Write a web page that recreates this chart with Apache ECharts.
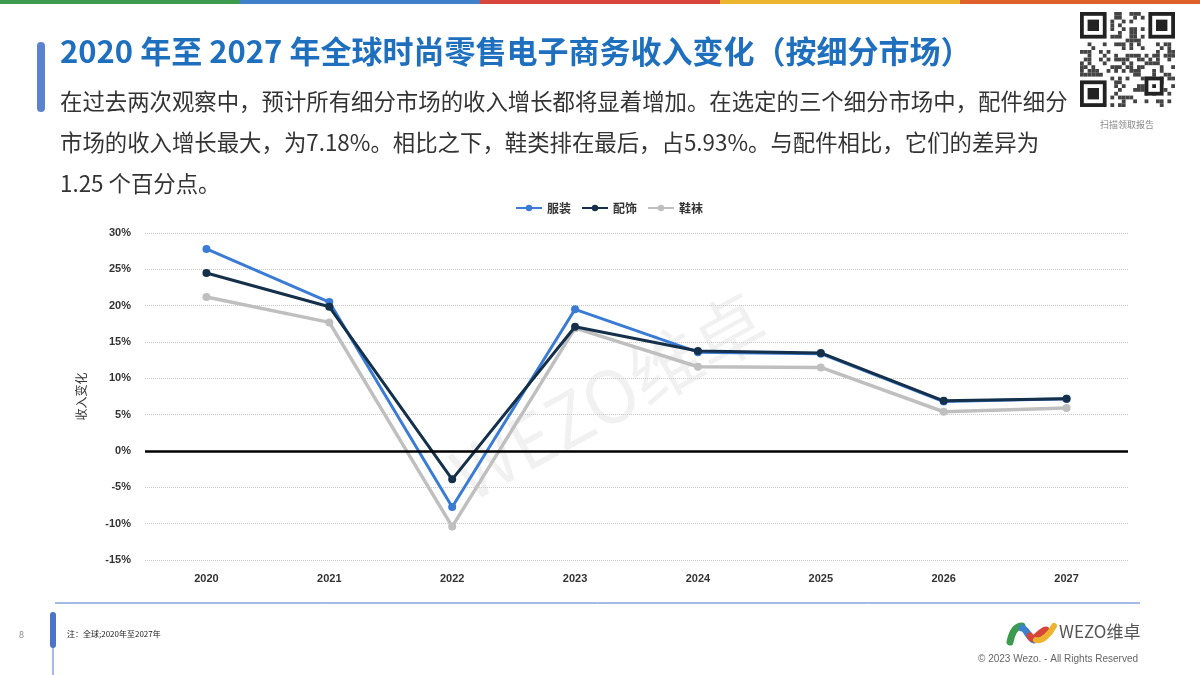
<!DOCTYPE html>
<html><head><meta charset="utf-8">
<script src="https://cdn.jsdelivr.net/npm/echarts@6/dist/echarts.min.js"></script>
<style>html,body{margin:0;padding:0;background:#fff}#c{width:1200px;height:675px}</style>
</head><body><div id="c"></div>
<script>
const categories = ['2020','2021','2022','2023','2024','2025','2026','2027'];
const apparel = [27.8, 20.5, -7.7, 19.5, 13.6, 13.4, 6.8, 7.2];
const accessories = [24.5, 19.85, -3.9, 17.1, 13.75, 13.5, 6.9, 7.18];
const footwear = [21.2, 17.7, -10.4, 16.9, 11.6, 11.5, 5.4, 5.93];
const seriesNames = ['服装','配饰','鞋袜'];
const yTicks = {min:-15, max:30, interval:5};

const FONT = '"Noto Sans CJK SC","Noto Sans",sans-serif';
const chart = echarts.init(document.getElementById('c'));

// QR placeholder modules (decorative)
const qr = [];
const N = 25, qx = 1080, qy = 12, m = 3.8;
function finder(cx, cy){
  qr.push({type:'rect',shape:{x:cx,y:cy,width:7*m,height:7*m},style:{fill:'#222'}});
  qr.push({type:'rect',shape:{x:cx+m,y:cy+m,width:5*m,height:5*m},style:{fill:'#fff'}});
  qr.push({type:'rect',shape:{x:cx+2*m,y:cy+2*m,width:3*m,height:3*m},style:{fill:'#222'}});
}
for(let i=0;i<N;i++){for(let j=0;j<N;j++){
  const inF = (i<8&&j<8)||(i<8&&j>N-9)||(i>N-9&&j<8);
  if(inF) continue;
  const h = ((i*31+j*17+i*j*7)^(i*5+j*3))%5;
  if(h<2) qr.push({type:'rect',shape:{x:qx+j*m,y:qy+i*m,width:m,height:m},style:{fill:'#444'}});
}}
finder(qx,qy); finder(qx+(N-7)*m,qy); finder(qx,qy+(N-7)*m);
qr.push({type:'rect',shape:{x:qx+17*m,y:qy+17*m,width:5*m,height:5*m},style:{fill:'#222'}});
qr.push({type:'rect',shape:{x:qx+18*m,y:qy+18*m,width:3*m,height:3*m},style:{fill:'#fff'}});
qr.push({type:'rect',shape:{x:qx+19*m,y:qy+19*m,width:m,height:m},style:{fill:'#222'}});

const topColors = ['#3d9b4f','#3f80ca','#d8453b','#ecb32e','#de6129'];
const topBars = topColors.map((c,i)=>({type:'rect',shape:{x:i*240,y:0,width:240,height:4},style:{fill:c}}));

const option = {
  backgroundColor:'#fff',
  animation:false,
  textStyle:{fontFamily:FONT},
  legend:{
    data:seriesNames, top:197, left:510, itemWidth:26, itemHeight:8, itemGap:10,
    textStyle:{fontSize:12,fontWeight:'bold',color:'#333',fontFamily:FONT}
  },
  grid:{left:145,right:72,top:233,bottom:115},
  xAxis:{
    type:'category', data:categories, boundaryGap:true,
    axisLine:{show:false}, axisTick:{show:false},
    axisLabel:{color:'#333',fontSize:11,fontWeight:'bold',margin:13,fontFamily:'Liberation Sans, Arial, sans-serif'}
  },
  yAxis:{
    type:'value', min:yTicks.min, max:yTicks.max, interval:yTicks.interval,
    name:'收入变化', nameLocation:'middle', nameGap:58, nameRotate:90,
    nameTextStyle:{fontSize:12,color:'#333',fontFamily:FONT},
    axisLine:{show:false}, axisTick:{show:false},
    axisLabel:{formatter:'{value}%',color:'#333',fontSize:11,fontWeight:'bold',margin:14,fontFamily:'Liberation Sans, Arial, sans-serif'},
    splitLine:{lineStyle:{type:'dotted',color:'#c8c8c8',width:1}}
  },
  series:[
    {name:seriesNames[2],type:'line',data:footwear,symbol:'circle',symbolSize:8,z:2,
      itemStyle:{color:'#bfbfbf'},lineStyle:{width:3.5,color:'#bfbfbf'}},
    {name:seriesNames[0],type:'line',data:apparel,symbol:'circle',symbolSize:8,z:3,
      itemStyle:{color:'#3a7bd5'},lineStyle:{width:3,color:'#3a7bd5'}},
    {name:seriesNames[1],type:'line',data:accessories,symbol:'circle',symbolSize:8,z:4,
      itemStyle:{color:'#15304b'},lineStyle:{width:3,color:'#15304b'},
      markLine:{silent:true,symbol:'none',label:{show:false},
        lineStyle:{color:'#000',width:2.5,type:'solid'},data:[{yAxis:0}]}}
  ],
  graphic:[
    ...topBars,
    {type:'text',left:440,top:282,rotation:Math.PI*0.16,z:0,
      style:{text:'WEZO维卓',font:'72px '+FONT,fill:'rgba(0,0,0,0.055)'}},
    {type:'rect',shape:{x:37,y:42,width:8,height:70,r:4},style:{fill:'#5b82cf'}},
    {type:'text',x:60,y:36,style:{text:'2020 年至 2027 年全球时尚零售电子商务收入变化（按细分市场）',
      font:'bold 31px '+FONT,fill:'#1f6fbf'}},
    {type:'text',x:60,y:90,style:{text:'在过去两次观察中，预计所有细分市场的收入增长都将显着增加。在选定的三个细分市场中，配件细分',
      font:'22.4px '+FONT,fill:'#333'}},
    {type:'text',x:60,y:131,style:{text:'市场的收入增长最大，为7.18%。相比之下，鞋类排在最后，占5.93%。与配件相比，它们的差异为',
      font:'22.4px '+FONT,fill:'#333'}},
    {type:'text',x:60,y:172,style:{text:'1.25 个百分点。',font:'22.4px '+FONT,fill:'#333'}},
    ...qr,
    {type:'text',x:1127,y:120,style:{text:'扫描领取报告',font:'9px '+FONT,fill:'#888',align:'center'}},
    // footer
    {type:'line',shape:{x1:55,y1:603,x2:1140,y2:603},style:{stroke:'#4a74c9',lineWidth:1}},
    {type:'line',shape:{x1:53,y1:612,x2:53,y2:675},style:{stroke:'#4a74c9',lineWidth:1}},
    {type:'rect',shape:{x:50,y:612,width:6,height:36,r:3},style:{fill:'#4a74c9'}},
    {type:'text',x:19,y:630,style:{text:'8',font:'9px '+FONT,fill:'#888'}},
    {type:'text',x:67,y:630,style:{text:'注：全球;2020年至2027年',font:'8px '+FONT,fill:'#222'}},
    // logo
    {type:'bezierCurve',shape:{x1:1010,y1:642,x2:1022,y2:626,cpx1:1012,cpy1:632,cpx2:1016,cpy2:626},style:{stroke:'#3d9b4f',lineWidth:7,lineCap:'round',fill:null}},
    {type:'bezierCurve',shape:{x1:1022,y1:628,x2:1034,y2:640,cpx1:1026,cpy1:628,cpx2:1030,cpy2:640},style:{stroke:'#3f80ca',lineWidth:7,lineCap:'round',fill:null}},
    {type:'bezierCurve',shape:{x1:1030,y1:636,x2:1046,y2:630,cpx1:1034,cpy1:644,cpx2:1040,cpy2:630},style:{stroke:'#d8453b',lineWidth:7,lineCap:'round',fill:null}},
    {type:'bezierCurve',shape:{x1:1036,y1:640,x2:1054,y2:626,cpx1:1042,cpy1:642,cpx2:1050,cpy2:634},style:{stroke:'#ecb32e',lineWidth:6,lineCap:'round',fill:null}},
    {type:'text',x:1059,y:623,style:{text:'WEZO维卓',font:'17px '+FONT,fill:'#555'}},
    {type:'text',x:978,y:654,style:{text:'© 2023 Wezo. - All Rights Reserved',font:'10px "Liberation Sans",Arial,sans-serif',fill:'#666'}}
  ]
};
chart.setOption(option);
</script></body></html>
